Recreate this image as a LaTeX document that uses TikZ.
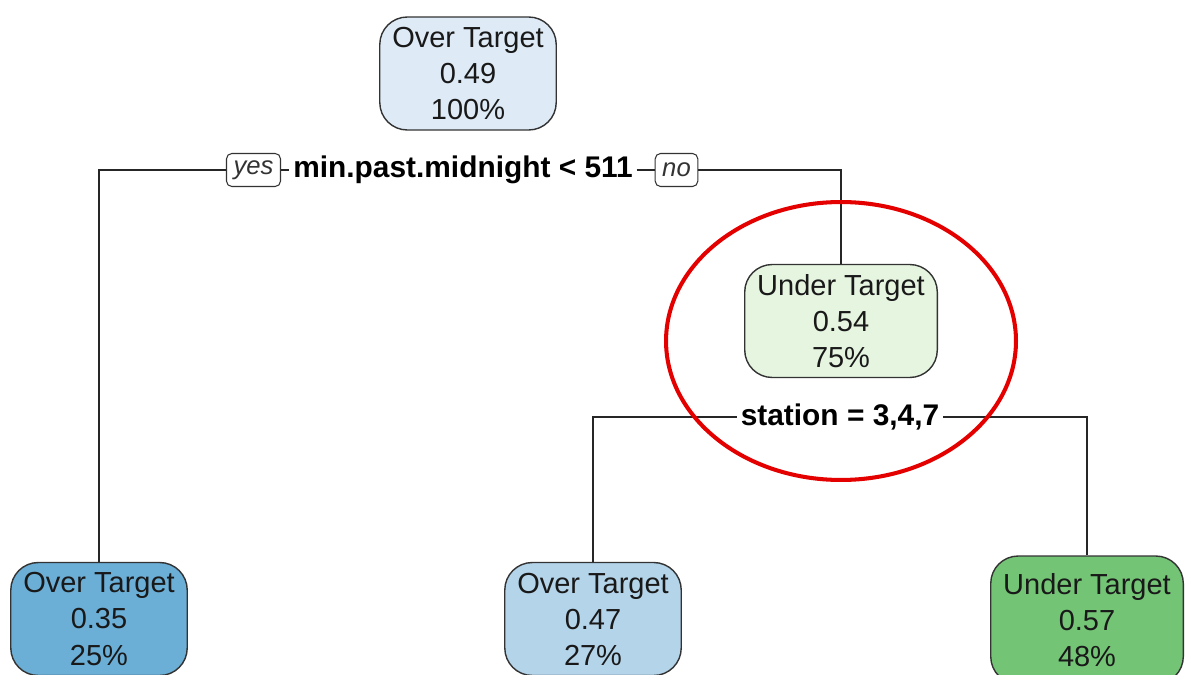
\documentclass[tikz,border=0pt]{standalone}
\usepackage{fontspec}
\setmainfont{Liberation Sans}
\usepackage{tikz}
\usetikzlibrary{positioning, calc}

\definecolor{rootblue}{HTML}{DEEBF7}
\definecolor{palegreen}{HTML}{E5F5E0}
\definecolor{leafblue}{HTML}{6BAED6}
\definecolor{midblue}{HTML}{B4D4EA}
\definecolor{leafgreen}{HTML}{74C476}

\begin{document}
\begin{tikzpicture}[
    x=0.02cm, y=-0.02cm,
    treenode/.style={rectangle, rounded corners=0.55cm, draw=black!80, line width=0.8pt,
                     minimum height=2.26cm, inner xsep=0.25cm, align=center,
                     font=\fontsize{16.5}{20.5}\selectfont, text=black!90},
    split/.style={fill=white, inner xsep=2pt, inner ysep=1pt,
                  font=\fontsize{17}{20}\selectfont\bfseries},
    answer/.style={rectangle, rounded corners=3pt, draw=black!80, line width=0.6pt,
                   fill=white, minimum height=0.66cm, inner xsep=4pt,
                   font=\fontsize{14.6}{16}\selectfont\itshape, text=black!80},
    branch/.style={line width=0.8pt, draw=black!85}
]
    \useasboundingbox (0,0) rectangle (1185,675);

    % Root
    \node[treenode, fill=rootblue] (root) at (468,73.5) {Over Target\\0.49\\100\%};

    % First split
    \node[split] (split1) at (463,170) {min.past.midnight < 511};
    \node[answer] (yes) at (253.5,170) {yes};
    \node[answer] (no) at (676.5,170) {no};

    % Inner node
    \node[treenode, fill=palegreen] (under) at (841,321) {Under Target\\0.54\\75\%};

    % Second split
    \node[split] (split2) at (840,417) {station = 3,4,7};

    % Leaves
    \node[treenode, fill=leafblue] (leafA) at (99,619) {Over Target\\0.35\\25\%};
    \node[treenode, fill=midblue] (leafB) at (593,619) {Over Target\\0.47\\27\%};
    \node[treenode, fill=leafgreen, minimum height=2.56cm] (leafC) at (1087,620) {Under Target\\0.57\\48\%};

    % Branches
    \draw[branch] (leafA.north) |- (yes.west);
    \draw[branch] (yes.east) -- (split1.west);
    \draw[branch] (split1.east) -- (no.west);
    \draw[branch] (no.east) -| (under.north);
    \draw[branch] (leafB.north) |- (split2.west);
    \draw[branch] (split2.east) -| (leafC.north);

    % Highlight
    \draw[red!90!black, line width=2.3pt] (841,341) ellipse [x radius=3.5cm, y radius=2.78cm];

\end{tikzpicture}
\end{document}
